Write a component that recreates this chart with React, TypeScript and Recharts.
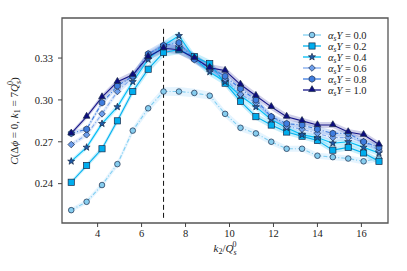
import { ComposedChart, Line, Area, XAxis, YAxis, ReferenceLine, ReferenceArea, Legend, Label } from 'recharts'

// k2 / Qs0 sample points
const kRatio = [2.8, 3.5, 4.2, 4.9, 5.6, 6.3, 7.0, 7.7, 8.4, 9.1, 9.8, 10.5, 11.2, 11.9, 12.6, 13.3, 14.0, 14.7, 15.4, 16.1, 16.8]

const alphaLabels = ['0.0', '0.2', '0.4', '0.6', '0.8', '1.0']

const corrA00 = [0.221, 0.227, 0.239, 0.254, 0.278, 0.294, 0.306, 0.306, 0.305, 0.303, 0.290, 0.280, 0.276, 0.270, 0.265, 0.265, 0.260, 0.259, 0.258, 0.256, 0.258]
const corrA02 = [0.241, 0.253, 0.265, 0.285, 0.306, 0.322, 0.334, 0.336, 0.331, 0.326, 0.312, 0.299, 0.288, 0.282, 0.277, 0.274, 0.271, 0.264, 0.266, 0.262, 0.256]
const corrA04 = [0.256, 0.266, 0.283, 0.295, 0.313, 0.329, 0.339, 0.346, 0.330, 0.320, 0.313, 0.303, 0.295, 0.286, 0.280, 0.275, 0.273, 0.269, 0.270, 0.266, 0.262]
const corrA06 = [0.268, 0.275, 0.290, 0.306, 0.316, 0.332, 0.338, 0.339, 0.330, 0.322, 0.315, 0.304, 0.298, 0.288, 0.281, 0.279, 0.276, 0.273, 0.273, 0.270, 0.264]
const corrA08 = [0.276, 0.279, 0.298, 0.310, 0.317, 0.333, 0.339, 0.341, 0.329, 0.323, 0.317, 0.308, 0.300, 0.288, 0.283, 0.282, 0.279, 0.276, 0.276, 0.270, 0.266]
const corrA10 = [0.276, 0.288, 0.302, 0.313, 0.318, 0.331, 0.337, 0.336, 0.330, 0.323, 0.321, 0.311, 0.303, 0.295, 0.288, 0.285, 0.282, 0.282, 0.277, 0.275, 0.268]

// half width of the shaded bands
const bandErr = [0.0015, 0.0018, 0.002, 0.0022, 0.0025, 0.0028, 0.003, 0.0032, 0.003, 0.0028, 0.0026, 0.0025, 0.0024, 0.0023, 0.0022, 0.0022, 0.0022, 0.0022, 0.0022, 0.0022, 0.0022]

const xTicks = [4, 6, 8, 10, 12, 14, 16]
const yTicks = [0.24, 0.27, 0.3, 0.33]
const xDomain = [2.38, 17.21]
const yDomain = [0.2118, 0.3587]

const seriesValues = [corrA00, corrA02, corrA04, corrA06, corrA08, corrA10]

const styles = [
  { line: '#80cff2', fill: '#86cdef', band: '#87cefa', shape: 'circle', dash: '4 2 1 2' },
  { line: '#00b2ef', fill: '#00adee', band: '#00b2ef', shape: 'square', dash: undefined },
  { line: '#00bdf5', fill: '#1c5aa8', band: '#00bfff', shape: 'star', dash: undefined },
  { line: '#7fa9ee', fill: '#6d9eeb', band: '#7fa9ee', shape: 'diamond', dash: '4 2 1 2' },
  { line: '#3c7be0', fill: '#3f7ddf', band: '#3c7be0', shape: 'hexagon', dash: '4 2 1 2' },
  { line: '#16168a', fill: '#0c0c80', band: '#2a2a9a', shape: 'triangle', dash: undefined },
]

const data = kRatio.map((k, i) => {
  const row: Record<string, any> = { k }
  seriesValues.forEach((vals, s) => {
    row['s' + s] = vals[i]
    row['b' + s] = [vals[i] - bandErr[i], vals[i] + bandErr[i]]
  })
  return row
})

const FONT = '"Liberation Serif", "DejaVu Serif", serif'

function polygon(cx: number, cy: number, n: number, r: number, rot: number, inner?: number) {
  const pts: string[] = []
  const count = inner ? n * 2 : n
  for (let i = 0; i < count; i++) {
    const a = rot + (i * Math.PI * 2) / count
    const rr = inner && i % 2 === 1 ? inner : r
    pts.push(`${cx + rr * Math.cos(a)},${cy + rr * Math.sin(a)}`)
  }
  return pts.join(' ')
}

function Marker({ shape, cx, cy, fill }: { shape: string; cx: number; cy: number; fill: string }) {
  const stroke = '#1a2a48'
  const sw = 0.7
  if (cx == null || cy == null) return null
  switch (shape) {
    case 'square':
      return <rect x={cx - 3.1} y={cy - 3.1} width={6.2} height={6.2} fill={fill} stroke={stroke} strokeWidth={sw} />
    case 'star':
      return <polygon points={polygon(cx, cy, 5, 3.7, -Math.PI / 2, 1.5)} fill={fill} stroke={stroke} strokeWidth={sw} />
    case 'diamond':
      return <polygon points={polygon(cx, cy, 4, 3.3, -Math.PI / 2)} fill={fill} stroke={stroke} strokeWidth={sw} />
    case 'hexagon':
      return <polygon points={polygon(cx, cy, 6, 3.3, -Math.PI / 2)} fill={fill} stroke={stroke} strokeWidth={sw} />
    case 'triangle':
      return <polygon points={polygon(cx, cy - 0.4, 3, 3.9, -Math.PI / 2)} fill={fill} stroke={stroke} strokeWidth={sw} />
    default:
      return <circle cx={cx} cy={cy} r={2.8} fill={fill} stroke={stroke} strokeWidth={sw} />
  }
}

function LegendBox() {
  return (
    <svg width={95} height={70} style={{ display: 'block' }}>
      {styles.map((st, i) => {
        const y = 7 + i * 11
        return (
          <g key={i}>
            <line x1={2} x2={20} y1={y} y2={y} stroke={st.line} strokeWidth={1.3} />
            <Marker shape={st.shape} cx={11} cy={y} fill={st.fill} />
            <text x={27} y={y + 3.5} fontFamily={FONT} fontSize={10.5} fill="#222">
              <tspan fontStyle="italic">α</tspan>
              <tspan fontStyle="italic" fontSize={7.5} dy={2}>s</tspan>
              <tspan fontStyle="italic" dy={-2}>Y</tspan>
              <tspan>{' = ' + alphaLabels[i]}</tspan>
            </text>
          </g>
        )
      })}
    </svg>
  )
}

export default function App() {
  return (
    <div style={{ position: 'absolute', left: 0, top: 0, background: '#fff' }}>
      <ComposedChart width={407} height={271} data={data} margin={{ top: 18, right: 19, left: 0, bottom: 0 }}>
        <XAxis
          dataKey="k"
          type="number"
          domain={xDomain}
          ticks={xTicks}
          allowDataOverflow
          height={48}
          axisLine={false}
          tickSize={4}
          tickMargin={3}
          tickLine={{ stroke: '#444' }}
          tick={{ fill: '#222', fontSize: 10.5, fontFamily: FONT }}
        >
          <Label
            content={() => (
              <text x={225} y={252} textAnchor="middle" fontFamily={FONT} fontSize={11} fill="#222">
                <tspan fontStyle="italic">k</tspan>
                <tspan fontSize={8} dy={2}>2</tspan>
                <tspan dy={-2}>/</tspan>
                <tspan fontStyle="italic">Q</tspan>
                <tspan fontSize={8} fontStyle="italic" dy={3}>s</tspan>
                <tspan fontSize={8} dx={-4} dy={-8}>0</tspan>
              </text>
            )}
          />
        </XAxis>
        <YAxis
          type="number"
          domain={yDomain}
          ticks={yTicks}
          allowDataOverflow
          width={62}
          axisLine={false}
          tickSize={4}
          tickMargin={5}
          tickLine={{ stroke: '#444' }}
          tickFormatter={(v: number) => v.toFixed(2)}
          tick={{ fill: '#222', fontSize: 10.5, fontFamily: FONT }}
        >
          <Label
            content={() => (
              <text x={0} y={0} transform="translate(18,121) rotate(-90)" textAnchor="middle" fontFamily={FONT} fontSize={11} fill="#222">
                <tspan fontStyle="italic">C</tspan>
                <tspan>(Δ</tspan>
                <tspan fontStyle="italic">ϕ</tspan>
                <tspan>{' = 0, '}</tspan>
                <tspan fontStyle="italic">k</tspan>
                <tspan fontSize={8} dy={2}>1</tspan>
                <tspan dy={-2}>{' = 7'}</tspan>
                <tspan fontStyle="italic">Q</tspan>
                <tspan fontSize={8} fontStyle="italic" dy={3}>s</tspan>
                <tspan fontSize={8} dx={-4} dy={-8}>0</tspan>
                <tspan dy={5}>)</tspan>
              </text>
            )}
          />
        </YAxis>
        {styles.map((st, s) => (
          <Area
            key={'b' + s}
            dataKey={'b' + s}
            type="linear"
            stroke="none"
            fill={st.band}
            fillOpacity={0.22}
            dot={false}
            activeDot={false}
            isAnimationActive={false}
          />
        ))}
        <ReferenceLine
          segment={[{ x: 7, y: 0.2155 }, { x: 7, y: 0.3525 }]}
          stroke="#111"
          strokeDasharray="5 3"
          strokeWidth={1}
        />
        {styles.map((st, s) => (
          <Line
            key={'s' + s}
            dataKey={'s' + s}
            type="linear"
            stroke={st.line}
            strokeWidth={1.1}
            strokeDasharray={st.dash}
            dot={(p: any) => <Marker key={'m' + s + '-' + p.index} shape={st.shape} cx={p.cx} cy={p.cy} fill={st.fill} />}
            activeDot={false}
            isAnimationActive={false}
          />
        ))}
        <ReferenceArea
          x1={xDomain[0]}
          x2={xDomain[1]}
          y1={yDomain[0]}
          y2={yDomain[1]}
          fill="none"
          stroke="#555"
          strokeWidth={1.3}
          ifOverflow="visible"
        />
        <Legend
          layout="vertical"
          align="center"
          verticalAlign="middle"
          wrapperStyle={{ top: 28, left: 301, width: 95 }}
          content={() => <LegendBox />}
        />
      </ComposedChart>
    </div>
  )
}
